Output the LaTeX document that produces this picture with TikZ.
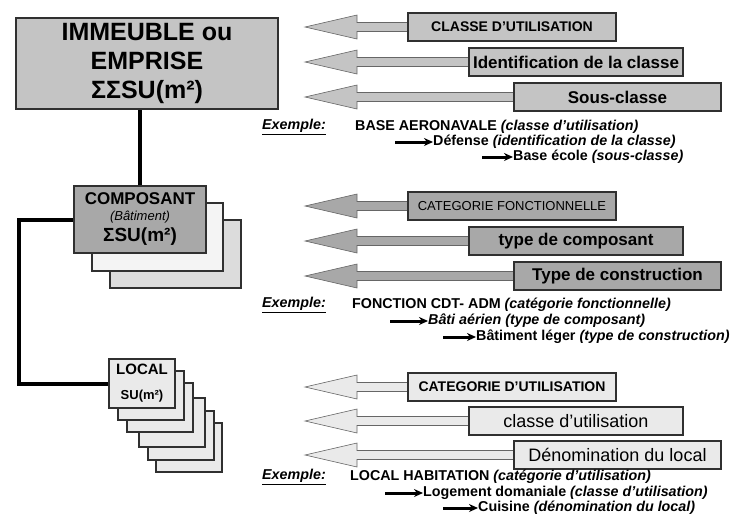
\documentclass[tikz,border=0pt]{standalone}
\usepackage{fontspec}
\setmainfont{Liberation Sans}
\usetikzlibrary{arrows.meta,positioning,calc}
\definecolor{Gi}{HTML}{C4C4C4}
\definecolor{Gc}{HTML}{A8A8A8}
\definecolor{Gl}{HTML}{EAEAEA}
\definecolor{Gs}{HTML}{F4F4F4}
\definecolor{Gd}{HTML}{DCDCDC}
\definecolor{edge}{HTML}{303030}
\newcommand{\fs}[1]{\fontsize{#1}{#1}\selectfont}
\tikzset{
  box/.style={rectangle, draw=edge, line width=1.2pt, inner sep=0pt, align=center},
  tag/.style={box, minimum height=28pt},
  shaft/.style={draw=black!60, line width=0.6pt},
  link/.style={line width=4pt},
  ex/.style={anchor=west, inner sep=0pt, font=\fontsize{14.3}{14.3}\selectfont\bfseries},
  pointer/.style={-{Stealth[length=9pt,width=8pt]}, line width=3pt},
}
% hollow arrow from a label box back to the tip
\newcommand{\fleche}[3]{%
  \draw[shaft, fill=#3] ($(#1.west)+(1,-4.5)$) -- ($(#2)+(52,-4.5)$) -- ($(#2)+(52,-12)$)
    -- (#2) -- ($(#2)+(52,12)$) -- ($(#2)+(52,4.5)$) -- ($(#1.west)+(1,4.5)$);}

\begin{document}
\begin{tikzpicture}[x=1pt, y=-1pt]
  \useasboundingbox (0,0) rectangle (736,525);
  % left column
  \node[box, fill=Gi, minimum width=262pt, minimum height=91pt,
        font=\fontsize{25}{29}\selectfont\bfseries] (imm) at (147,63.5)
        {IMMEUBLE ou\\EMPRISE\\ΣΣSU(m²)};
  \draw[box, fill=Gd] (110,220) rectangle (241,288);
  \draw[box, fill=Gs] (92,203) rectangle (223,271);
  \node[box, fill=Gc, minimum width=132pt, minimum height=67pt,
        font=\fontsize{17}{17}\selectfont\bfseries] (comp) at (140,219.5)
        {COMPOSANT\\[-1pt]{\fs{13}\mdseries\itshape (Bâtiment)}\\[4pt]{\fs{19}ΣSU(m²)}};
  \foreach \dx/\dy in {47/64,39/52,30/39,18/24,9/12}
    \draw[box, fill=Gl] (109+\dx,359+\dy) rectangle ++(66,49);
  \node[box, fill=Gl, minimum width=66pt, minimum height=49pt,
        font=\fontsize{15}{25}\selectfont\bfseries] (loc) at (142,383.5)
        {LOCAL\\{\fs{13}SU(m²)}};
  \coordinate (bend) at (19,300);
  \draw[link] (comp.north) -- (comp.north |- imm.south);
  \draw[link] (comp.west) -- (comp.west -| bend) -- (bend |- loc.west) -- (loc.west);

  % immeuble
  \foreach \n/\y in {t1/27,t2/62,t3/97,t4/206,t5/241,t6/276,t7/387,t8/421,t9/455}
    \coordinate (\n) at (305,\y);
  \node[tag, fill=Gi, minimum width=208pt, font=\fs{14}\bfseries] (c1) at (512,27) {CLASSE D’UTILISATION};
  \node[tag, fill=Gi, minimum width=214pt, font=\fs{17}\bfseries] (c2) at (576,62) {Identification de la classe};
  \node[tag, fill=Gi, minimum width=207pt, font=\fs{17}\bfseries] (c3) at (617.5,97) {Sous-classe};
  \fleche{c1}{t1}{Gi} \fleche{c2}{t2}{Gi} \fleche{c3}{t3}{Gi}
  \node[tag, fill=Gi, minimum width=208pt, font=\fs{14}\bfseries] at (c1) {CLASSE D’UTILISATION};
  \node[tag, fill=Gi, minimum width=214pt, font=\fs{17}\bfseries] at (c2) {Identification de la classe};
  \node[tag, fill=Gi, minimum width=207pt, font=\fs{17}\bfseries] at (c3) {Sous-classe};
  \node[ex] (e1) at (262,127) {\itshape\underline{Exemple:}};
  \node[ex] (e1a) at (355,127) {BASE AERONAVALE \textit{(classe d’utilisation)}};
  \node[ex] (e1b) at (433,142) {Défense \textit{(identification de la classe)}};
  \node[ex] (e1c) at (513,157) {Base école \textit{(sous-classe)}};
  \coordinate (q1b) at (395,142); \coordinate (q1c) at (482,157);
  \draw[pointer] (q1b) -- (e1b.west);
  \draw[pointer] (q1c) -- (e1c.west);

  % composant
  \node[tag, fill=Gc, minimum width=208pt, font=\fs{13}] (c4) at (512,206) {CATEGORIE FONCTIONNELLE};
  \node[tag, fill=Gc, minimum width=214pt, font=\fs{17}\bfseries] (c5) at (576,241) {type de composant};
  \node[tag, fill=Gc, minimum width=207pt, font=\fs{17}\bfseries] (c6) at (617.5,276) {Type de construction};
  \fleche{c4}{t4}{Gc} \fleche{c5}{t5}{Gc} \fleche{c6}{t6}{Gc}
  \node[tag, fill=Gc, minimum width=208pt, font=\fs{13}] at (c4) {CATEGORIE FONCTIONNELLE};
  \node[tag, fill=Gc, minimum width=214pt, font=\fs{17}\bfseries] at (c5) {type de composant};
  \node[tag, fill=Gc, minimum width=207pt, font=\fs{17}\bfseries] at (c6) {Type de construction};
  \node[ex] (e2) at (262,305) {\itshape\underline{Exemple:}};
  \node[ex] (e2a) at (352,305) {FONCTION CDT- ADM \textit{(catégorie fonctionnelle)}};
  \node[ex] (e2b) at (428,321) {\itshape Bâti aérien (type de composant)};
  \node[ex] (e2c) at (476,337) {Bâtiment léger \textit{(type de construction)}};
  \coordinate (q2b) at (390,321); \coordinate (q2c) at (443,337);
  \draw[pointer] (q2b) -- (e2b.west);
  \draw[pointer] (q2c) -- (e2c.west);

  % local
  \node[tag, fill=Gl, minimum width=208pt, font=\fs{14}\bfseries] (c7) at (512,387) {CATEGORIE D’UTILISATION};
  \node[tag, fill=Gl, minimum width=214pt, font=\fs{18}] (c8) at (576,421) {classe d’utilisation};
  \node[tag, fill=Gl, minimum width=207pt, font=\fs{18}] (c9) at (617.5,455) {Dénomination du local};
  \fleche{c7}{t7}{Gl} \fleche{c8}{t8}{Gl} \fleche{c9}{t9}{Gl}
  \node[tag, fill=Gl, minimum width=208pt, font=\fs{14}\bfseries] at (c7) {CATEGORIE D’UTILISATION};
  \node[tag, fill=Gl, minimum width=214pt, font=\fs{18}] at (c8) {classe d’utilisation};
  \node[tag, fill=Gl, minimum width=207pt, font=\fs{18}] at (c9) {Dénomination du local};
  \node[ex] (e3) at (262,477) {\itshape\underline{Exemple:}};
  \node[ex] (e3a) at (350,477) {LOCAL HABITATION \textit{(catégorie d’utilisation)}};
  \node[ex] (e3b) at (423,493) {Logement domaniale \textit{(classe d’utilisation)}};
  \node[ex] (e3c) at (478,508) {Cuisine \textit{(dénomination du local)}};
  \coordinate (q3b) at (385,493); \coordinate (q3c) at (443,508);
  \draw[pointer] (q3b) -- (e3b.west);
  \draw[pointer] (q3c) -- (e3c.west);
\end{tikzpicture}
\end{document}
